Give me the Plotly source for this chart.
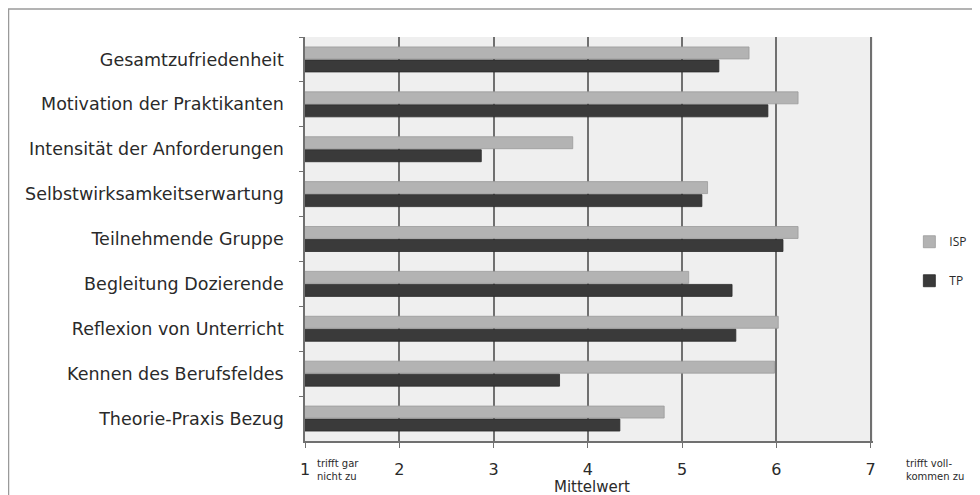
import plotly.graph_objects as go

categories = [
    "Gesamtzufriedenheit",
    "Motivation der Praktikanten",
    "Intensität der Anforderungen",
    "Selbstwirksamkeitserwartung",
    "Teilnehmende Gruppe",
    "Begleitung Dozierende",
    "Reflexion von Unterricht",
    "Kennen des Berufsfeldes",
    "Theorie-Praxis Bezug",
]
isp = [5.71, 6.23, 3.84, 5.27, 6.23, 5.07, 6.02, 5.98, 4.81]
tp = [5.39, 5.91, 2.87, 5.21, 6.07, 5.53, 5.57, 3.70, 4.34]
x_ticks = [1, 2, 3, 4, 5, 6, 7]

FONT = "'DejaVu Sans', 'Open Sans', sans-serif"

fig = go.Figure()
fig.add_trace(go.Bar(y=categories, x=isp, name="ISP", orientation="h", legendgroup="a",
                     marker=dict(color="#b3b3b3", line=dict(color="#9a9a9a", width=0.8))))
fig.add_trace(go.Bar(y=categories, x=tp, name="TP", orientation="h", legendgroup="b",
                     marker=dict(color="#3a3a3a", line=dict(color="#2a2a2a", width=0.8))))

fig.update_layout(
    width=972, height=487,
    margin=dict(l=297, r=107, t=29, b=54, autoexpand=False),
    paper_bgcolor="white",
    plot_bgcolor="#efefef",
    barmode="group",
    bargap=0.42,
    bargroupgap=0.08,
    font=dict(family=FONT, color="#2a2a2a", size=15),
    legend=dict(x=1.064, y=0.445, xanchor="left", yanchor="middle",
                traceorder="grouped", font=dict(size=12, family="'Open Sans', sans-serif"),
                itemwidth=30, tracegroupgap=20, bgcolor="rgba(0,0,0,0)"),
    showlegend=True,
)
fig.update_xaxes(
    range=[1, 7.025], tickvals=x_ticks, ticktext=[str(v) for v in x_ticks],
    showgrid=True, gridcolor="#707070", gridwidth=1.5,
    showline=True, linecolor="#707070", linewidth=1.5,
    ticks="outside", ticklen=5, tickcolor="#707070", ticklabelstandoff=8,
    tickfont=dict(size=16), zeroline=False, automargin=False,
)
fig.update_yaxes(
    autorange="reversed",
    showline=True, linecolor="#707070", linewidth=1.5,
    ticks="outside", ticklen=4, tickcolor="#707070", tickson="boundaries",
    ticklabelstandoff=16, tickfont=dict(size=17.5), showgrid=False, automargin=False,
)

fig.add_annotation(xref="paper", yref="paper", x=0.505, y=-0.114, text="Mittelwert",
                   showarrow=False, font=dict(size=15), yanchor="middle")
fig.add_annotation(xref="paper", yref="paper", x=0.018, y=-0.072, text="trifft gar<br>nicht zu",
                   showarrow=False, font=dict(size=10), xanchor="left", yanchor="middle",
                   align="left")
fig.add_annotation(xref="paper", yref="paper", x=1.054, y=-0.072, text="trifft voll-<br>kommen zu",
                   showarrow=False, font=dict(size=10), xanchor="left", yanchor="middle",
                   align="left")
fig.add_shape(type="rect", xref="paper", yref="paper", x0=-0.522, x1=1.183, y0=-0.2, y1=1.069,
              line=dict(color="#9a9a9a", width=1.5), fillcolor="rgba(0,0,0,0)", layer="below")

fig.write_html("out.html")
